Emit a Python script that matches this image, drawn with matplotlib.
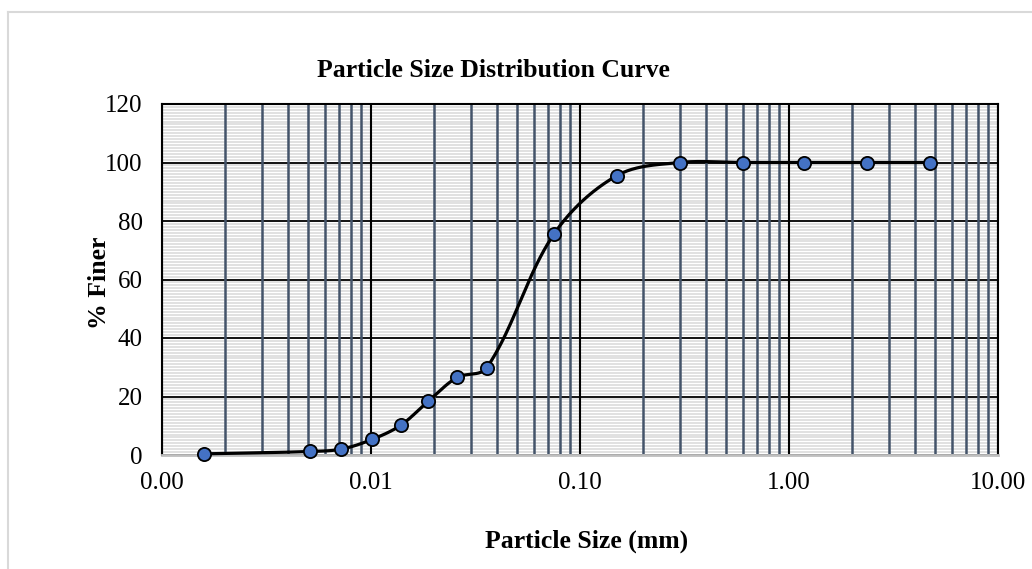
import matplotlib
matplotlib.use('Agg')
import matplotlib.pyplot as plt
from matplotlib.ticker import LogLocator, MultipleLocator, FormatStrFormatter
from matplotlib.lines import Line2D
import numpy as np

plt.rcParams['font.family'] = ['Liberation Serif', 'DejaVu Serif']

# particle size (mm) and percent finer
size_mm = [0.00159, 0.0051, 0.0072, 0.0101, 0.0139, 0.0188, 0.0258, 0.0358,
           0.075, 0.15, 0.30, 0.60, 1.18, 2.36, 4.75]
pct_finer = [0.4, 1.2, 2.0, 5.3, 10.2, 18.4, 26.5, 29.8,
             75.5, 95.5, 100, 100, 100, 100, 100]

XPX = 836 / 4.0    # pixels per decade
YPX = 351 / 120.0  # pixels per percent


def smooth(xs, ys, n=40):
	# excel style smoothed line, tangent length scaled by segment length
	p = np.column_stack([np.log10(xs) * XPX, np.array(ys, dtype=float) * YPX])
	m = len(p)
	tang = []
	for i in range(m):
		a = p[max(i - 1, 0)]
		b = p[min(i + 1, m - 1)]
		d = b - a
		tang.append(d / (np.hypot(*d) + 1e-12))
	t = np.linspace(0, 1, n)
	out = []
	for i in range(m - 1):
		p0, p3 = p[i], p[i + 1]
		L = np.hypot(*(p3 - p0))
		c1 = p0 + tang[i] * L / 3.0
		c2 = p3 - tang[i + 1] * L / 3.0
		for tt in t:
			out.append(((1 - tt) ** 3) * p0 + 3 * ((1 - tt) ** 2) * tt * c1 + 3 * (1 - tt) * tt ** 2 * c2 + tt ** 3 * p3)
	out = np.array(out)
	return 10 ** (out[:, 0] / XPX), out[:, 1] / YPX


fig = plt.figure(figsize=(10.32, 5.69), dpi=100)
ax = fig.add_axes([162 / 1032, 1 - 455 / 569, 836 / 1032, 351 / 569])

ax.set_xscale('log')
ax.set_xlim(0.001, 10)
ax.set_ylim(0, 120)

ax.xaxis.set_major_locator(LogLocator(base=10, numticks=10))
ax.xaxis.set_minor_locator(LogLocator(base=10, subs=np.arange(2, 10), numticks=50))
ax.xaxis.set_major_formatter(FormatStrFormatter('%.2f'))
ax.yaxis.set_major_locator(MultipleLocator(20))
ax.yaxis.set_minor_locator(MultipleLocator(1))

ax.grid(which='minor', axis='y', color='#dedede', linewidth=1.3)
ax.grid(which='major', axis='y', color='black', linewidth=1.3)
ax.grid(which='minor', axis='x', color='#44546a', linewidth=1.8)
ax.grid(which='major', axis='x', color='black', linewidth=1.5)
ax.set_axisbelow(True)
# x grid drawn after the y grid so the vertical lines sit on top
ax.yaxis.set_zorder(0.4)
ax.xaxis.set_zorder(0.6)

for tick in ax.xaxis.get_major_ticks():
	if abs(tick.get_loc() - 1.0) < 1e-9:
		tick.gridline.set_color('#c8c8c8')

ax.tick_params(which='both', length=0)
ax.tick_params(axis='x', labelsize=18, pad=12)
ax.tick_params(axis='y', labelsize=18, pad=14)

for s in ['top', 'right', 'left']:
	ax.spines[s].set_color('black')
	ax.spines[s].set_linewidth(1.5)
ax.spines['bottom'].set_color('#bfbfbf')
ax.spines['bottom'].set_linewidth(2)

sx, sy = smooth(size_mm, pct_finer)
ax.plot(sx, sy, color='black', linewidth=2.3, zorder=3, clip_on=False)
ax.plot(size_mm, pct_finer, linestyle='none', marker='o', markersize=9.5,
	markerfacecolor='#4472c4', markeredgecolor='black', markeredgewidth=1.3, zorder=4, clip_on=False)

fig.text(317 / 1032, 1 - 77 / 569, 'Particle Size Distribution Curve', ha='left', va='baseline',
	fontsize=18.5, fontweight='bold')
fig.text(485 / 1032, 1 - 548 / 569, 'Particle Size (mm)', ha='left', va='baseline',
	fontsize=18.5, fontweight='bold')
fig.text(88 / 1032, 1 - 283 / 569, '% Finer', ha='left', va='center', rotation=90,
	fontsize=18.5, fontweight='bold')

# outer chart border
fig.add_artist(Line2D([8 / 1032, 8 / 1032], [0, 1 - 12 / 569], transform=fig.transFigure, color='#d9d9d9', linewidth=1.5))
fig.add_artist(Line2D([8 / 1032, 1], [1 - 12 / 569, 1 - 12 / 569], transform=fig.transFigure, color='#d9d9d9', linewidth=1.5))

fig.savefig('out.png', dpi=100)
